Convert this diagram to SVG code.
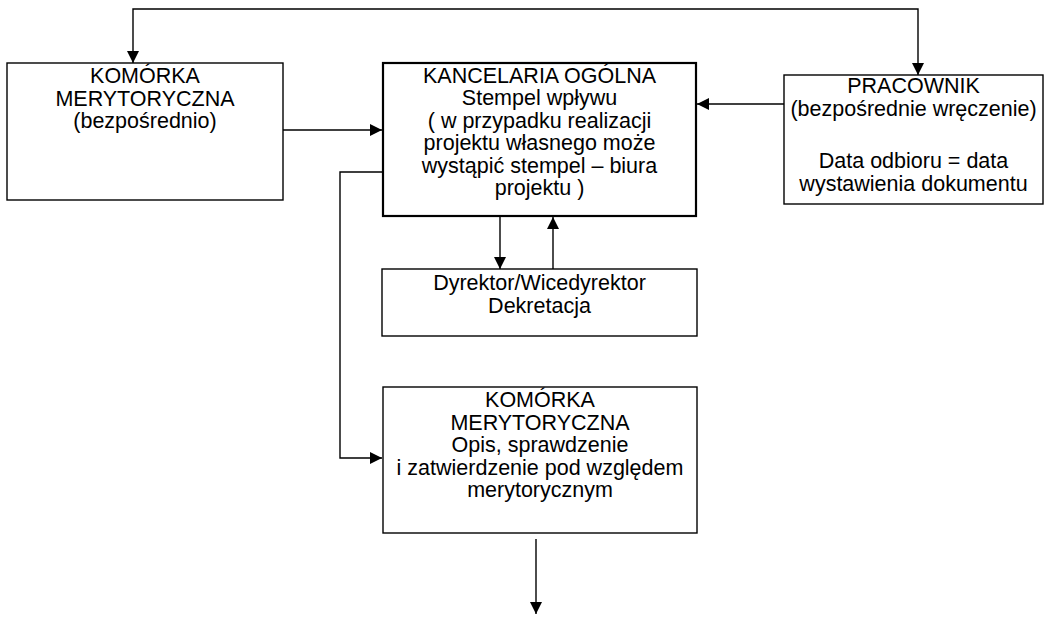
<svg xmlns="http://www.w3.org/2000/svg" width="1057" height="617" viewBox="0 0 1057 617">
<defs>
<marker id="ah" markerUnits="userSpaceOnUse" markerWidth="12" markerHeight="12" refX="12" refY="6" orient="auto-start-reverse">
<path d="M0,0 L12,6 L0,12 z" fill="#000"/>
</marker>
<style>
.box{fill:#fff;stroke:#000;stroke-width:1.4}
.thick{stroke-width:2.2}
.t{font-family:"Liberation Sans",Arial,sans-serif;font-size:21.5px;fill:#000;text-anchor:middle}
.c{fill:none;stroke:#000;stroke-width:1.4}
</style>
</defs>
<rect width="1057" height="617" fill="#fff"/>
<g id="connectors">
<path class="c" d="M133,63 L133,9 L918,9 L918,75" marker-start="url(#ah)" marker-end="url(#ah)"/>
<line class="c" x1="283" y1="130" x2="382" y2="130" marker-end="url(#ah)"/>
<line class="c" x1="784" y1="104" x2="697" y2="104" marker-end="url(#ah)"/>
<line class="c" x1="500" y1="217" x2="500" y2="269" marker-end="url(#ah)"/>
<line class="c" x1="553" y1="269" x2="553" y2="217" marker-end="url(#ah)"/>
<polyline class="c" points="382,172 340,172 340,458 382,458" marker-end="url(#ah)"/>
<line class="c" x1="536" y1="539" x2="536" y2="614" marker-end="url(#ah)"/>
</g>
<g id="komorka1">
<rect class="box" x="7" y="63" width="276" height="137"/>
<text class="t" x="145" y="83">KOMÓRKA</text>
<text class="t" x="145" y="105.5">MERYTORYCZNA</text>
<text class="t" x="145" y="128">(bezpośrednio)</text>
</g>
<g id="kancelaria">
<rect class="box thick" x="383" y="63" width="313" height="153"/>
<text class="t" x="539.5" y="83">KANCELARIA OGÓLNA</text>
<text class="t" x="539.5" y="105.4">Stempel wpływu</text>
<text class="t" x="539.5" y="127.8">( w przypadku realizacji</text>
<text class="t" x="539.5" y="150.2">projektu własnego może</text>
<text class="t" x="539.5" y="172.6">wystąpić stempel – biura</text>
<text class="t" x="539.5" y="195">projektu )</text>
</g>
<g id="pracownik">
<rect class="box" x="784" y="75" width="259" height="129"/>
<text class="t" x="913.5" y="93">PRACOWNIK</text>
<text class="t" x="913.5" y="116">(bezpośrednie wręczenie)</text>
<text class="t" x="913.5" y="168">Data odbioru = data</text>
<text class="t" x="913.5" y="191">wystawienia dokumentu</text>
</g>
<g id="dyrektor">
<rect class="box" x="382" y="269" width="315" height="67"/>
<text class="t" x="539.5" y="290">Dyrektor/Wicedyrektor</text>
<text class="t" x="539.5" y="312.5">Dekretacja</text>
</g>
<g id="komorka2">
<rect class="box" x="383" y="387" width="314" height="146"/>
<text class="t" x="540" y="407">KOMÓRKA</text>
<text class="t" x="540" y="429.5">MERYTORYCZNA</text>
<text class="t" x="540" y="452">Opis, sprawdzenie</text>
<text class="t" x="540" y="474.5">i zatwierdzenie pod względem</text>
<text class="t" x="540" y="497">merytorycznym</text>
</g>
</svg>
